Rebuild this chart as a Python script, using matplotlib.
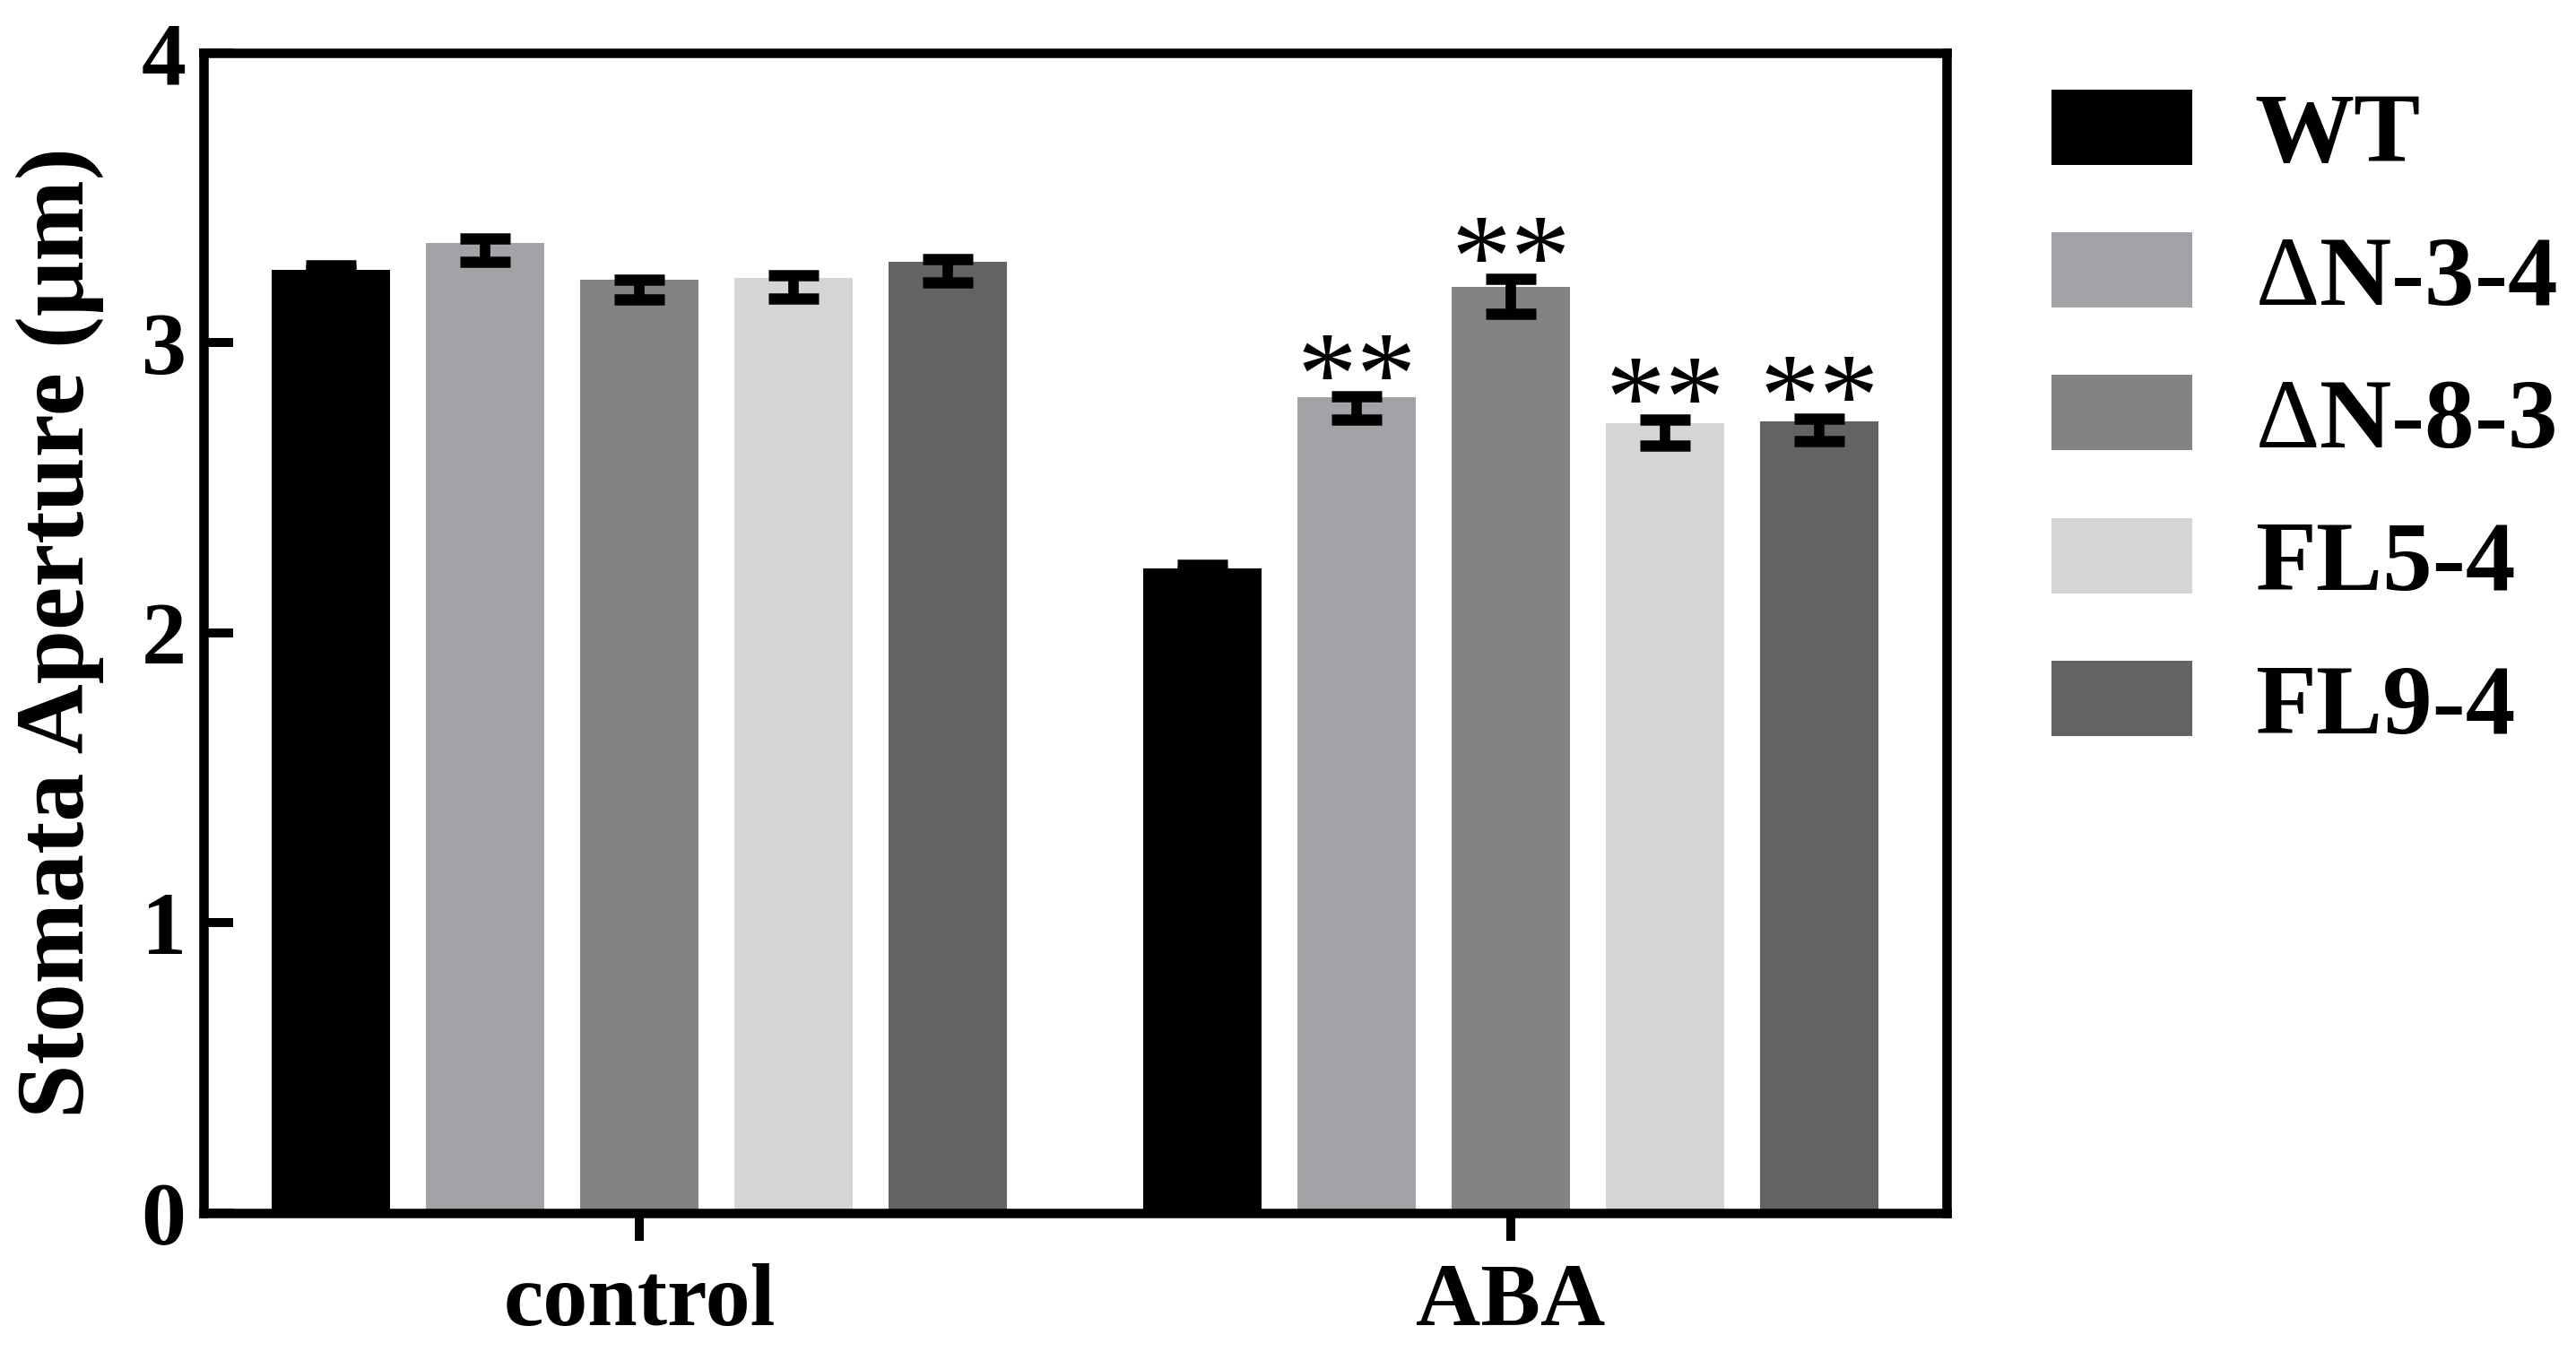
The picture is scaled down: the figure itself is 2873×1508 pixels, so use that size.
import matplotlib
matplotlib.use("Agg")
import matplotlib.pyplot as plt
import numpy as np
from matplotlib.patches import Patch

groups = ["control", "ABA"]
lines = ["WT", "ΔN-3-4", "ΔN-8-3", "FL5-4", "FL9-4"]
legend_labels = ["WT", r"$\Delta$N-3-4", r"$\Delta$N-8-3", "FL5-4", "FL9-4"]
colors = ["#000000", "#A3A2A6", "#838383", "#D5D5D5", "#636363"]

# bar heights (mean) per line: [control, ABA]
bar_values = {
    "WT":     [3.252, 2.224],
    "ΔN-3-4": [3.346, 2.812],
    "ΔN-8-3": [3.219, 3.193],
    "FL5-4":  [3.224, 2.722],
    "FL9-4":  [3.280, 2.729],
}
# error bar centres and half-lengths (SE) as drawn
err_centers = {
    "WT":     [3.260, 2.224],
    "ΔN-3-4": [3.319, 2.775],
    "ΔN-8-3": [3.184, 3.160],
    "FL5-4":  [3.194, 2.690],
    "FL9-4":  [3.250, 2.700],
}
err_values = {
    "WT":     [0.008, 0.010],
    "ΔN-3-4": [0.040, 0.040],
    "ΔN-8-3": [0.035, 0.060],
    "FL5-4":  [0.040, 0.045],
    "FL9-4":  [0.040, 0.040],
}
significance = {
    "WT":     ["", ""],
    "ΔN-3-4": ["", "**"],
    "ΔN-8-3": ["", "**"],
    "FL5-4":  ["", "**"],
    "FL9-4":  ["", "**"],
}
yticks = [0, 1, 2, 3, 4]
ylabel = "Stomata Aperture (μm)"

plt.rcParams['font.family'] = ['Liberation Serif', 'DejaVu Serif']
plt.rcParams['font.weight'] = 'bold'
plt.rcParams['mathtext.fontset'] = 'custom'
plt.rcParams['mathtext.rm'] = 'Liberation Serif:weight=normal'
plt.rcParams['mathtext.it'] = 'Liberation Serif:weight=normal'
plt.rcParams['mathtext.bf'] = 'Liberation Serif:weight=bold'

fig = plt.figure(figsize=(14.365, 7.54), dpi=200)
ax = fig.add_axes([0.079, 0.1028, 0.7557 - 0.079, 0.9609 - 0.1028])

x = np.arange(len(groups))
pitch = 0.177
width = 0.136
n = len(lines)
for i, (ln, c) in enumerate(zip(lines, colors)):
    xs = x + (i - (n - 1) / 2) * pitch
    ax.bar(xs, bar_values[ln], width, color=c, edgecolor='none', label=ln, zorder=2)
    ax.errorbar(xs, err_centers[ln], yerr=err_values[ln], fmt='none', ecolor='black',
                elinewidth=4.2, capsize=10, capthick=4.5, zorder=3)
    for xi, yc, e, s in zip(xs, err_centers[ln], err_values[ln], significance[ln]):
        if s:
            ax.text(xi, yc + e - 0.06, s, ha='center', va='baseline', fontsize=48,
                    fontweight='normal', zorder=4)

ax.set_xlim(-0.5, 1.5)
ax.set_ylim(0, 4)
ax.set_yticks(yticks)
ax.set_yticklabels([str(t) for t in yticks])
ax.set_xticks(x)
ax.set_xticklabels(groups)
for sp in ax.spines.values():
    sp.set_linewidth(3.8)
ax.tick_params(axis='y', direction='in', length=12, width=3.6, labelsize=36, pad=7)
ax.tick_params(axis='x', direction='out', length=11, width=3.6, labelsize=36, pad=9)
for lab in ax.get_xticklabels() + ax.get_yticklabels():
    lab.set_fontweight('bold')
ax.set_ylabel(ylabel, fontsize=39, fontweight='bold', labelpad=15)

handles = [Patch(facecolor=c, edgecolor='none', label=l) for l, c in zip(legend_labels, colors)]
leg = fig.legend(handles=handles, loc='upper left', bbox_to_anchor=(0.7964, 0.934),
                 frameon=False, fontsize=40, handlelength=1.41, handleheight=0.79,
                 labelspacing=0.5, handletextpad=0.63, borderpad=0, borderaxespad=0)
for t in leg.get_texts():
    t.set_fontweight('bold')

fig.savefig("out.png", dpi=200)
